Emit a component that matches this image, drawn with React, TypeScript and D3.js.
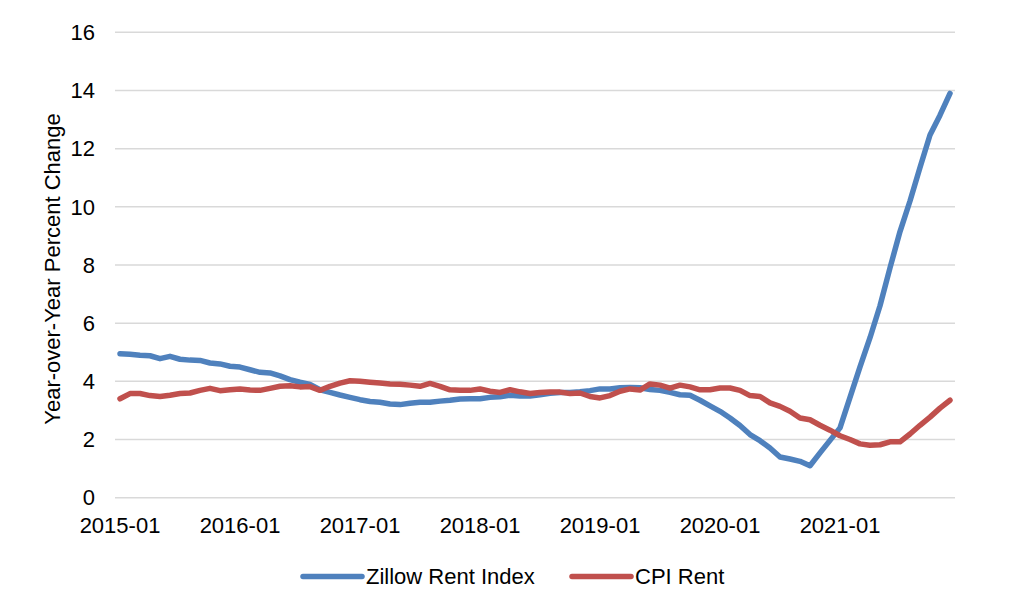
import React, { useEffect, useRef } from "react";
import * as d3 from "d3";

const years = [2015, 2016, 2017, 2018, 2019, 2020, 2021];
const months = years.flatMap((y) =>
  d3.range(1, 13).map((m) => `${y}-${String(m).padStart(2, "0")}`)
);
const tickLabels = ["2015-01", "2016-01", "2017-01", "2018-01", "2019-01", "2020-01", "2021-01"];
const yTicks = [0, 2, 4, 6, 8, 10, 12, 14, 16];

const zillow = [
  4.95, 4.93, 4.9, 4.88, 4.78, 4.86, 4.76, 4.73, 4.72, 4.63, 4.6, 4.52,
  4.49, 4.4, 4.31, 4.29, 4.19, 4.06, 3.97, 3.89, 3.71, 3.62, 3.53, 3.45,
  3.37, 3.31, 3.28, 3.22, 3.2, 3.25, 3.28, 3.28, 3.32, 3.35, 3.39, 3.4,
  3.4, 3.45, 3.47, 3.52, 3.5, 3.5, 3.54, 3.59, 3.62, 3.62, 3.64, 3.68,
  3.74, 3.74, 3.78, 3.79, 3.78, 3.72, 3.69, 3.62, 3.54, 3.52, 3.35, 3.16,
  2.97, 2.74, 2.48, 2.17, 1.96, 1.71, 1.4, 1.33, 1.25, 1.1, 1.54, 1.97,
  2.4, 3.45, 4.5, 5.5, 6.6, 7.9, 9.15, 10.2, 11.35, 12.47, 13.15, 13.9,
];

const cpi = [
  3.4, 3.58, 3.58, 3.51, 3.48, 3.52, 3.58, 3.6, 3.69, 3.76, 3.68, 3.71,
  3.74, 3.7, 3.69, 3.76, 3.83, 3.85, 3.81, 3.82, 3.69, 3.83, 3.94, 4.02,
  4.0, 3.97, 3.94, 3.91, 3.9, 3.87, 3.83, 3.93, 3.83, 3.71, 3.69, 3.69,
  3.74, 3.66, 3.62, 3.71, 3.64, 3.58, 3.62, 3.63, 3.63, 3.58, 3.6, 3.48,
  3.43, 3.51, 3.66, 3.74, 3.7, 3.91, 3.87, 3.77, 3.87, 3.81, 3.71, 3.71,
  3.77, 3.77, 3.69, 3.51, 3.48, 3.26, 3.14, 2.97, 2.74, 2.68, 2.49, 2.32,
  2.13, 2.0, 1.85, 1.8, 1.82, 1.92, 1.92, 2.19, 2.49, 2.77, 3.08, 3.35,
];

const series = [
  { name: "Zillow Rent Index", values: zillow, color: "#4F81BD" },
  { name: "CPI Rent", values: cpi, color: "#C0504D" },
];

const width = 1024;
const height = 616;
const font = "'Liberation Sans', Arial, sans-serif";
const fontSize = 22;

export default function App() {
  const svgRef = useRef<SVGSVGElement | null>(null);

  useEffect(() => {
    const svg = d3.select(svgRef.current);
    svg.selectAll("*").remove();

    const x = d3.scaleBand<string>().domain(months).range([115, 955]);
    const y = d3.scaleLinear().domain([0, 16]).range([497.7, 32.3]);
    const cx = (m: string) => (x(m) as number) + x.bandwidth() / 2;

    // gridlines
    svg
      .append("g")
      .selectAll("line")
      .data(yTicks)
      .join("line")
      .attr("x1", 115)
      .attr("x2", 955)
      .attr("y1", (d) => y(d))
      .attr("y2", (d) => y(d))
      .attr("stroke", "#D9D9D9")
      .attr("stroke-width", 1.5);

    // y labels
    svg
      .append("g")
      .selectAll("text")
      .data(yTicks)
      .join("text")
      .attr("x", 95)
      .attr("y", (d) => y(d))
      .attr("dy", "0.35em")
      .attr("text-anchor", "end")
      .attr("font-family", font)
      .attr("font-size", fontSize)
      .attr("fill", "#000")
      .text((d) => d);

    // x labels
    svg
      .append("g")
      .selectAll("text")
      .data(tickLabels)
      .join("text")
      .attr("x", (d) => cx(d))
      .attr("y", 533)
      .attr("text-anchor", "middle")
      .attr("font-family", font)
      .attr("font-size", fontSize)
      .attr("fill", "#000")
      .text((d) => d);

    // y title
    svg
      .append("text")
      .attr("transform", "translate(52,269) rotate(-90)")
      .attr("dy", "0.35em")
      .attr("text-anchor", "middle")
      .attr("font-family", font)
      .attr("font-size", fontSize)
      .attr("fill", "#000")
      .text("Year-over-Year Percent Change");

    const line = d3
      .line<number>()
      .x((_, i) => cx(months[i]))
      .y((d) => y(d));

    series.forEach((s) => {
      svg
        .append("path")
        .datum(s.values)
        .attr("fill", "none")
        .attr("stroke", s.color)
        .attr("stroke-width", 5.5)
        .attr("stroke-linejoin", "round")
        .attr("stroke-linecap", "round")
        .attr("d", line);
    });

    // legend
    const legendX = [303, 572];
    const legend = svg
      .append("g")
      .selectAll("g")
      .data(series)
      .join("g")
      .attr("transform", (_, i) => `translate(${legendX[i]},576.5)`);
    legend
      .append("line")
      .attr("x1", 0)
      .attr("x2", 59)
      .attr("stroke", (d) => d.color)
      .attr("stroke-width", 5.5)
      .attr("stroke-linecap", "round");
    legend
      .append("text")
      .attr("x", 63)
      .attr("dy", "0.35em")
      .attr("font-family", font)
      .attr("font-size", fontSize)
      .attr("fill", "#000")
      .text((d) => d.name);
  }, []);

  return (
    <svg
      ref={svgRef}
      width={width}
      height={height}
      style={{ position: "absolute", left: 0, top: 0, background: "#fff" }}
    />
  );
}
